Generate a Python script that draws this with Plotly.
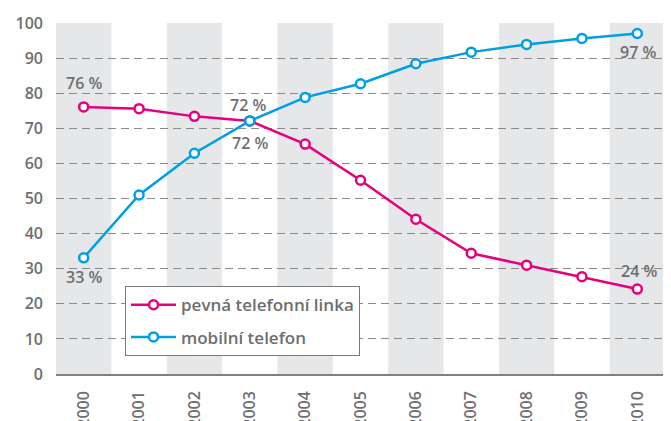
import plotly.graph_objects as go

years = ["2000", "2001", "2002", "2003", "2004", "2005", "2006", "2007", "2008", "2009", "2010"]
pevna = [76.1, 75.6, 73.4, 72.1, 65.5, 55.2, 44.1, 34.4, 31.0, 27.7, 24.2]
mobil = [33.1, 51.0, 62.9, 72.1, 78.8, 82.7, 88.4, 91.7, 93.9, 95.6, 97.0]
y_ticks = [0, 10, 20, 30, 40, 50, 60, 70, 80, 90, 100]
series_names = ["pevná telefonní linka", "mobilní telefon"]

PINK = "#e6007e"
BLUE = "#009fe3"
TXT = "#6d6e71"
FONT = "Open Sans"
W = 600

fig = go.Figure()
for name, vals, col in [(series_names[0], pevna, PINK), (series_names[1], mobil, BLUE)]:
    fig.add_trace(go.Scatter(
        x=years, y=vals, name=name, mode="lines+markers", legendgroup=name,
        line=dict(color=col, width=2.5),
        marker=dict(size=9, color="white", line=dict(color=col, width=2.5)),
    ))

for i in range(0, len(years), 2):
    fig.add_shape(type="rect", xref="x", yref="paper", x0=i - 0.5, x1=i + 0.5,
                  y0=0, y1=1, fillcolor="#e6e7e8", line=dict(width=0), layer="below")

def ann(i, val, xs, ys):
    fig.add_annotation(x=i, y=val, xref="x", yref="y", text=f"{round(val)} %",
                       showarrow=False, xshift=xs, yshift=ys,
                       font=dict(family=FONT, size=16, color=TXT, weight=W))

ann(0, pevna[0], 0, 24)
ann(0, mobil[0], 0, -19)
ann(3, pevna[3], -2, 16)
ann(3, mobil[3], 0, -22)
ann(10, pevna[10], 2, 18)
ann(10, mobil[10], 1, -18)

fig.update_layout(
    width=671, height=421,
    margin=dict(l=48, r=14, t=15, b=55, autoexpand=False),
    plot_bgcolor="white", paper_bgcolor="white",
    font=dict(family=FONT, size=16, color=TXT, weight=W),
    showlegend=True,
    legend=dict(x=0.1133, y=0.25, xanchor="left", yanchor="top",
                bgcolor="white", bordercolor="#7a7a7a", borderwidth=1,
                traceorder="grouped", tracegroupgap=7, itemwidth=45,
                font=dict(family=FONT, size=17, color=TXT, weight=W)),
    xaxis=dict(type="category", range=[-0.5, 10.5], tickangle=-90,
               tickfont=dict(family=FONT, size=16, color=TXT, weight=W),
               showgrid=False, showline=True, linecolor="#808080", linewidth=1.5,
               ticks="", ticklabelstandoff=9, fixedrange=True, automargin=False),
    yaxis=dict(range=[0, 100], tickvals=y_ticks, showgrid=True, gridcolor="#8a8a8a",
               tickfont=dict(family=FONT, size=16, color=TXT, weight=W),
               gridwidth=1.3, griddash="8px,5px", zeroline=False, showline=False,
               ticks="", ticklabelstandoff=12, fixedrange=True, automargin=False),
)

fig.write_html("out.html")
